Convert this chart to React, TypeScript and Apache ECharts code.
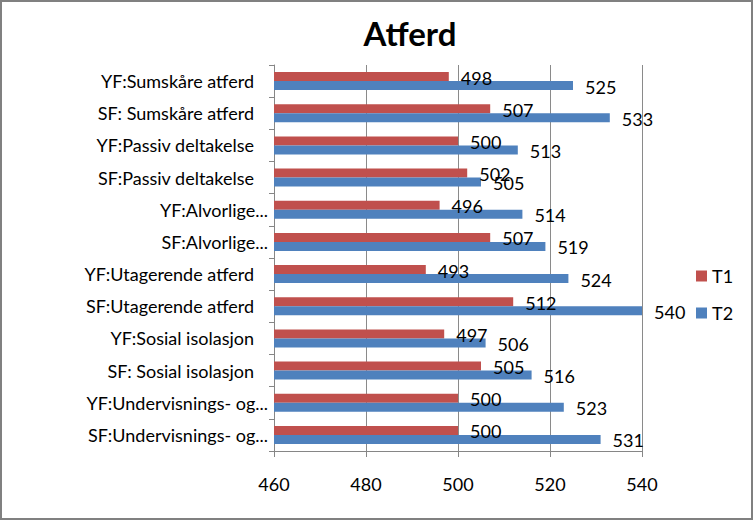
import React, { useEffect, useRef } from "react";
import * as echarts from "echarts";

const categories = [
  "YF:Sumskåre atferd",
  "SF: Sumskåre atferd",
  "YF:Passiv deltakelse",
  "SF:Passiv deltakelse",
  "YF:Alvorlige...",
  "SF:Alvorlige...",
  "YF:Utagerende atferd",
  "SF:Utagerende atferd",
  "YF:Sosial isolasjon",
  "SF: Sosial isolasjon",
  "YF:Undervisnings- og...",
  "SF:Undervisnings- og...",
];
const t1Values = [498, 507, 500, 502, 496, 507, 493, 512, 497, 505, 500, 500];
const t2Values = [525, 533, 513, 505, 514, 519, 524, 540, 506, 516, 523, 531];
const seriesNames = ["T1", "T2"];
const titleText = "Atferd";
const xMin = 460;
const xMax = 540;
const xInterval = 20;

const FONT = "Lato, 'Open Sans', sans-serif";

export default function App() {
  const ref = useRef<HTMLDivElement>(null);
  useEffect(() => {
    document.body.style.margin = "0";
    if (!ref.current) return;
    const chart = echarts.init(ref.current, null, { renderer: "svg" });
    const labelCfg = {
      show: true,
      position: "right" as const,
      distance: 12,
      color: "#000",
      fontSize: 18,
      fontFamily: FONT,
      offset: [0, 1],
    };
    chart.setOption({
      animation: false,
      backgroundColor: "#fff",
      textStyle: { fontFamily: FONT },
      title: {
        text: titleText,
        left: 403,
        textAlign: "center",
        top: 9,
        textStyle: { fontSize: 33, fontWeight: "bold", color: "#000", fontFamily: FONT },
      },
      legend: {
        orient: "vertical",
        left: 689,
        top: 260,
        itemWidth: 11,
        itemHeight: 11,
        itemGap: 19,
        icon: "rect",
        data: seriesNames,
        textStyle: { fontSize: 18, color: "#000", fontFamily: FONT },
      },
      grid: { left: 272, right: 109, top: 63, bottom: 67, containLabel: false },
      xAxis: {
        type: "value",
        min: xMin,
        max: xMax,
        interval: xInterval,
        axisLine: { show: true, lineStyle: { color: "#868686" } },
        axisTick: { show: true, length: 6, lineStyle: { color: "#868686" } },
        axisLabel: { fontSize: 18, color: "#000", margin: 24, fontFamily: FONT },
        splitLine: { show: true, lineStyle: { color: "#8a8a8a", width: 1 } },
      },
      yAxis: {
        type: "category",
        inverse: true,
        data: categories,
        axisLine: { show: true, lineStyle: { color: "#868686" } },
        axisTick: { show: true, length: 5, lineStyle: { color: "#868686" } },
        axisLabel: {
          fontSize: 18,
          color: "#000",
          margin: 6,
          fontFamily: FONT,
          formatter: (v: string) => (v.endsWith("...") ? `{tr|${v}}` : `{full|${v}}`),
          rich: {
            tr: { fontSize: 18, fontFamily: FONT, color: "#000" },
            full: { fontSize: 18, fontFamily: FONT, color: "#000", padding: [0, 14, 0, 0] },
          },
        },
      },
      series: [
        {
          name: seriesNames[0],
          type: "bar",
          data: t1Values,
          barWidth: 9,
          barGap: "0%",
          itemStyle: { color: "#C0504D" },
          label: labelCfg,
        },
        {
          name: seriesNames[1],
          type: "bar",
          data: t2Values,
          barWidth: 9,
          barGap: "0%",
          itemStyle: { color: "#4F81BD" },
          label: labelCfg,
        },
      ],
    });
    return () => chart.dispose();
  }, []);
  return (
    <div
      style={{
        width: 753,
        height: 520,
        boxSizing: "border-box",
        border: "2px solid #808080",
        background: "#fff",
      }}
    >
      <div ref={ref} style={{ width: 749, height: 516 }} />
    </div>
  );
}
